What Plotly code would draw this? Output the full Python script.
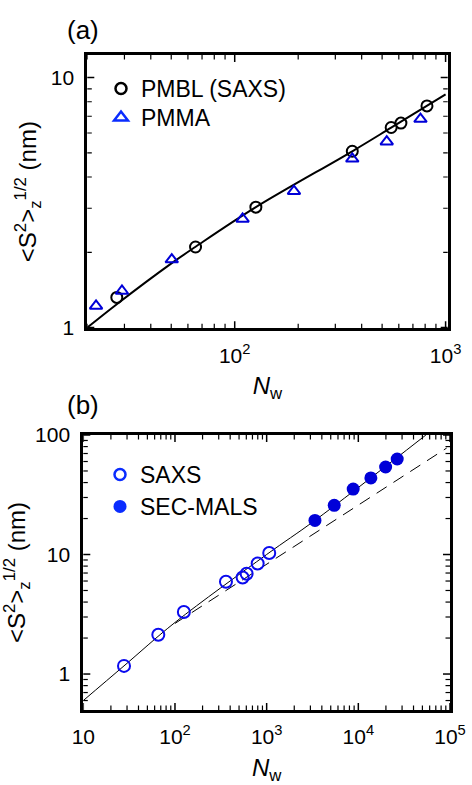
import math
import plotly.graph_objects as go

# ---------- Panel (a) data ----------
pmbl_N = [27.6, 65.2, 126, 361, 552, 614, 816]
pmbl_S = [1.32, 2.10, 3.03, 5.07, 6.31, 6.57, 7.70]
pmma_N = [22.0, 29.2, 50.3, 109, 191, 361, 526, 760]
pmma_S = [1.22, 1.40, 1.87, 2.72, 3.51, 4.73, 5.54, 6.82]
fit_a_N = [20, 27.6, 50.3, 65, 126, 361, 552, 1000]
fit_a_S = [1.0, 1.24, 1.81, 2.10, 3.03, 5.07, 6.30, 8.56]

# ---------- Panel (b) data ----------
saxs_N = [27.8, 65.8, 125, 360, 547, 605, 798, 1067]
saxs_S = [1.17, 2.13, 3.30, 5.92, 6.43, 6.91, 8.42, 10.3]
mals_N = [3365, 5460, 8790, 13700, 19850, 26550]
mals_S = [19.3, 25.8, 35.3, 43.7, 54.0, 63.0]
fit_b_N = [10, 27.8, 100, 1000, 3365, 54600]
fit_b_S = [0.60, 1.17, 2.70, 10.0, 19.3, 100]
dash_b_N = [100, 92000]
dash_b_S = [2.65, 77.8]

# tick labels
xa_vals = [100, 1000]
xa_text = ["10<sup>2</sup>", "10<sup>3</sup>"]
ya_vals = [1, 10]
ya_text = ["1", "10"]
xb_vals = [10, 100, 1000, 10000, 100000]
xb_text = ["10", "10<sup>2</sup>", "10<sup>3</sup>", "10<sup>4</sup>", "10<sup>5</sup>"]
yb_vals = [1, 10, 100]
yb_text = ["1", "10", "100"]

W, H = 472, 785
FONT = "Liberation Sans, Arial, sans-serif"
LEG_BLUE = "#0a2cff"
DATA_BLUE = "#0000d8"

XA_DOM = [87.3 / W, 447.7 / W]
YA_DOM = [1 - 328.3 / H, 1 - 55 / H]
XB_DOM = [83.3 / W, 450 / W]
YB_DOM = [1 - 710 / H, 1 - 435 / H]
XA_RNG = [1.301, 3.01]
YA_RNG = [-0.003, 1.09]
XB_RNG = [1, 5]
YB_RNG = [-0.301, 2]


def minors(lo_exp, hi_exp, rng):
    out = []
    for e in range(lo_exp, hi_exp + 1):
        for m in range(1, 10):
            v = m * 10 ** e
            if m > 1 and rng[0] - 1e-6 <= math.log10(v) <= rng[1] + 1e-6:
                out.append(v)
    return out


fig = go.Figure()

# ---- panel (a) traces ----
fig.add_trace(go.Scatter(x=fit_a_N, y=fit_a_S, mode="lines", line=dict(color="black", width=2, shape="spline"),
                         showlegend=False, xaxis="x", yaxis="y"))
fig.add_trace(go.Scatter(x=pmbl_N, y=pmbl_S, mode="markers",
                         marker=dict(symbol="circle-open", size=11, color="black", line=dict(width=2, color="black")),
                         showlegend=False, xaxis="x", yaxis="y"))
fig.add_trace(go.Scatter(x=pmma_N, y=pmma_S, mode="markers",
                         marker=dict(symbol="triangle-up-open", size=11, color=DATA_BLUE, line=dict(width=2, color=DATA_BLUE)),
                         showlegend=False, xaxis="x", yaxis="y"))
# legend entries (a)
fig.add_trace(go.Scatter(x=[None], y=[None], mode="markers", name="PMBL (SAXS)",
                         marker=dict(symbol="circle-open", size=11, color="black", line=dict(width=2.5, color="black")),
                         legend="legend", xaxis="x", yaxis="y"))
fig.add_trace(go.Scatter(x=[None], y=[None], mode="markers", name="PMMA",
                         marker=dict(symbol="triangle-up-open", size=12, color=LEG_BLUE, line=dict(width=2.5, color=LEG_BLUE)),
                         legend="legend3", xaxis="x", yaxis="y"))

# ---- panel (b) traces ----
fig.add_trace(go.Scatter(x=fit_b_N, y=fit_b_S, mode="lines", line=dict(color="black", width=1, shape="spline"),
                         showlegend=False, xaxis="x2", yaxis="y2"))
fig.add_trace(go.Scatter(x=dash_b_N, y=dash_b_S, mode="lines", line=dict(color="black", width=1, dash="12px,8px"),
                         showlegend=False, xaxis="x2", yaxis="y2"))
fig.add_trace(go.Scatter(x=saxs_N, y=saxs_S, mode="markers",
                         marker=dict(symbol="circle-open", size=12, color="#0a0aee", line=dict(width=2, color="#0a0aee")),
                         showlegend=False, xaxis="x2", yaxis="y2"))
fig.add_trace(go.Scatter(x=mals_N, y=mals_S, mode="markers",
                         marker=dict(symbol="circle", size=13, color=DATA_BLUE, line=dict(width=0)),
                         showlegend=False, xaxis="x2", yaxis="y2"))
# legend entries (b)
fig.add_trace(go.Scatter(x=[None], y=[None], mode="markers", name="SAXS",
                         marker=dict(symbol="circle-open", size=11, color=LEG_BLUE, line=dict(width=2.5, color=LEG_BLUE)),
                         legend="legend2", xaxis="x2", yaxis="y2"))
fig.add_trace(go.Scatter(x=[None], y=[None], mode="markers", name="SEC-MALS",
                         marker=dict(symbol="circle", size=13, color=LEG_BLUE, line=dict(width=0)),
                         legend="legend4", xaxis="x2", yaxis="y2"))


# ---- inside ticks on all four sides (major + minor), positioned through the axes ----
def add_ticks(xref, yref, xdom, ydom, xmaj, xmin, ymaj, ymin):
    wpx = (xdom[1] - xdom[0]) * W
    hpx = (ydom[1] - ydom[0]) * H
    for vals, ln, lw in ((xmaj, 7, 1.5), (xmin, 4.5, 1.2)):
        for v in vals:
            for y0, y1 in ((0, ln / hpx), (1, 1 - ln / hpx)):
                fig.add_shape(type="line", xref=xref, yref=yref + " domain", x0=v, x1=v, y0=y0, y1=y1,
                              line=dict(color="black", width=lw))
    for vals, ln, lw in ((ymaj, 7, 1.5), (ymin, 4.5, 1.2)):
        for v in vals:
            for x0, x1 in ((0, ln / wpx), (1, 1 - ln / wpx)):
                fig.add_shape(type="line", xref=xref + " domain", yref=yref, x0=x0, x1=x1, y0=v, y1=v,
                              line=dict(color="black", width=lw))


add_ticks("x", "y", XA_DOM, YA_DOM, xa_vals, minors(1, 2, XA_RNG), ya_vals, minors(0, 1, YA_RNG))
add_ticks("x2", "y2", XB_DOM, YB_DOM, xb_vals, minors(1, 4, XB_RNG), yb_vals, minors(-1, 1, YB_RNG))

axis_common = dict(
    type="log", showline=True, linecolor="black", linewidth=3, mirror=True,
    ticks="", tickmode="array",
    showgrid=False, zeroline=False, automargin=False, ticklabelstandoff=6,
    tickfont=dict(family=FONT, size=21, color="black"),
)

ytitle = "&lt;S<sup>2</sup>&gt;<sub>z</sub><sup>1/2</sup> (nm)"
xtitle = "<i>N</i><sub>w</sub>"
title_font = dict(family=FONT, size=24, color="black")

legend_common = dict(xanchor="left", yanchor="top", bgcolor="rgba(0,0,0,0)",
                     font=dict(family=FONT, size=23, color="black"))

fig.update_layout(
    width=W, height=H,
    margin=dict(l=0, r=0, t=0, b=0),
    paper_bgcolor="white", plot_bgcolor="white",
    showlegend=True,
    xaxis=dict(axis_common, domain=XA_DOM, anchor="y", range=XA_RNG,
               tickvals=xa_vals, ticktext=xa_text,
               title=dict(text=xtitle, font=title_font, standoff=12)),
    yaxis=dict(axis_common, domain=YA_DOM, anchor="x", range=YA_RNG,
               tickvals=ya_vals, ticktext=ya_text,
               title=dict(text=ytitle, font=title_font, standoff=8)),
    xaxis2=dict(axis_common, domain=XB_DOM, anchor="y2", range=XB_RNG,
                tickvals=xb_vals, ticktext=xb_text,
                title=dict(text=xtitle, font=title_font, standoff=16)),
    yaxis2=dict(axis_common, domain=YB_DOM, anchor="x2", range=YB_RNG,
                tickvals=yb_vals, ticktext=yb_text,
                title=dict(text=ytitle, font=title_font, standoff=8)),
    legend=dict(legend_common, x=101 / W, y=1 - 67 / H),
    legend3=dict(legend_common, x=101 / W, y=1 - 96 / H),
    legend2=dict(legend_common, x=100 / W, y=1 - 453 / H),
    legend4=dict(legend_common, x=100 / W, y=1 - 485 / H),
    annotations=[
        dict(text="(a)", x=83 / W, y=1 - 30 / H, xref="paper", yref="paper", showarrow=False,
             font=dict(family=FONT, size=26, color="black"), xanchor="center", yanchor="middle"),
        dict(text="(b)", x=83 / W, y=1 - 405 / H, xref="paper", yref="paper", showarrow=False,
             font=dict(family=FONT, size=26, color="black"), xanchor="center", yanchor="middle"),
    ],
)

fig.write_html("out.html", config={"displayModeBar": False},
               post_script="document.body.style.margin='0px';")
